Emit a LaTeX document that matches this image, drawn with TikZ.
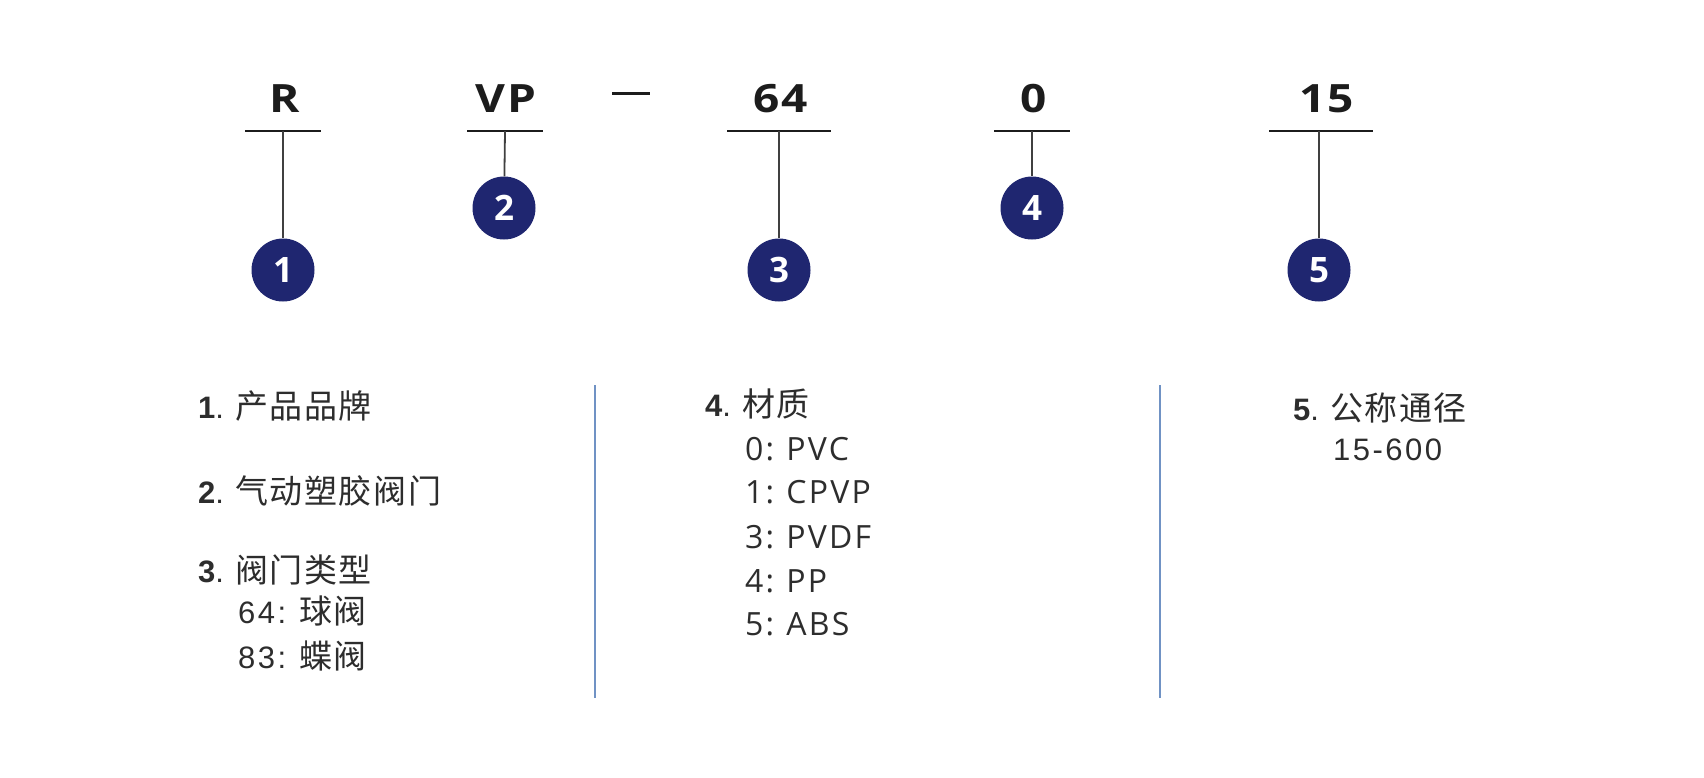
\documentclass[tikz,border=0pt]{standalone}
\usepackage{fontspec}
\setmainfont{Liberation Sans}[LetterSpace=8]
\newfontfamily\cjk{Noto Sans CJK SC}[LetterSpace=5]
\newfontfamily\codefont{Open Sans}[FakeStretch=1.18, LetterSpace=5]
\newfontfamily\badgefont{Open Sans}
\newfontfamily\listfont{Open Sans}[LetterSpace=7]
\usetikzlibrary{positioning}
\definecolor{navy}{RGB}{31,38,112}
\definecolor{divblue}{RGB}{112,146,196}
\definecolor{ink}{RGB}{28,28,28}
\definecolor{txt}{RGB}{45,45,45}
\newcommand{\zh}[1]{{\cjk\fontsize{33}{33}\selectfont #1}}
\newcommand{\num}[1]{{\bfseries #1}.\hspace{11pt}}
\begin{document}
\begin{tikzpicture}[x=1pt,y=-1pt]

      \tikzset{code/.style={anchor=base, inner sep=0pt, text=ink, font=\codefont\bfseries\fontsize{39}{39}\selectfont},
               bar/.style={draw=ink, line width=2.5pt},
               stem/.style={draw=black!75, line width=1.8pt},
               badge/.style={circle, fill=navy, inner sep=0pt, minimum size=63pt, text=white, font=\badgefont\bfseries\fontsize{35}{35}\selectfont},
               item/.style={anchor=base west, inner sep=0pt, text=txt, font=\fontsize{31}{31}\selectfont},
               sub/.style={item, font=\listfont\fontsize{32}{32}\selectfont},
               divider/.style={draw=divblue, line width=1.6pt}}
      \useasboundingbox[fill=white] (0,0) rectangle (1704,777);
%% Codes
      	\node[code] (cR) at (285,112) {R};
      	\node[code] (cVP) at (506,112) {VP};
      	\node[code] (c64) at (781,112) {64};
      	\node[code] (c0) at (1034,112) {0};
      	\node[code] (c15) at (1327,112) {15};
      	\coordinate (dashL) at (612,93);
      	\coordinate (dashR) at (650,93);
%% Underline centres
      	\coordinate (uR) at (283,131);
      	\coordinate (uVP) at (505,131);
      	\coordinate (u64) at (779,131);
      	\coordinate (u0) at (1032,131);
      	\coordinate (u15) at (1321,131);
%% Badges
      	\node[badge] (n1) at (283,270) {1};
      	\node[badge] (n2) at (504,208) {2};
      	\node[badge] (n3) at (779,270) {3};
      	\node[badge] (n4) at (1032,208) {4};
      	\node[badge] (n5) at (1319,270) {5};
%Bars
		\path[bar] ([xshift=-38]uR) -- ([xshift=38]uR);
		\path[bar] ([xshift=-38]uVP) -- ([xshift=38]uVP);
		\path[bar] ([xshift=-52]u64) -- ([xshift=52]u64);
		\path[bar] ([xshift=-38]u0) -- ([xshift=38]u0);
		\path[bar] ([xshift=-52]u15) -- ([xshift=52]u15);
		\path[bar, line width=3pt] (dashL) -- (dashR);
%Edges
		\path[stem] (uR) -- (n1);
		\path[stem] (uVP) -- (n2);
		\path[stem] (u64) -- (n3);
		\path[stem] (u0) -- (n4);
		\path[stem] (u15 -| n5) -- (n5);
%% Legend
      	\node[item] (t1) at (198,418) {\num{1}\zh{产品品牌}};
      	\node[item] (t2) at (198,503) {\num{2}\zh{气动塑胶阀门}};
      	\node[item] (t3) at (198,582) {\num{3}\zh{阀门类型}};
      	\node[item] (t3a) at (238,623) {64:\hspace{-2pt} \zh{球阀}};
      	\node[item] (t3b) at (238,668) {83:\hspace{-2pt} \zh{蝶阀}};
      	\node[item] (t4) at (705,416) {\num{4}\zh{材质}};
      	\node[sub] (t4a) at (745,460) {0:\hspace{-2pt} PVC};
      	\node[sub] (t4b) at (745,503) {1:\hspace{-2pt} CPVP};
      	\node[sub] (t4c) at (745,548) {3:\hspace{-2pt} PVDF};
      	\node[sub] (t4d) at (745,592) {4:\hspace{-2pt} PP};
      	\node[sub] (t4e) at (745,635) {5:\hspace{-2pt} ABS};
      	\node[item] (t5) at (1293,420) {\num{5}\zh{公称通径}};
      	\node[item] (t5a) at (1333,460) {15-600};
%Dividers
      	\coordinate (d1top) at (595,385);
      	\coordinate (d1bot) at (595,698);
      	\coordinate (d2top) at (1160,385);
      	\coordinate (d2bot) at (1160,698);
		\path[divider] (d1top) -- (d1bot);
		\path[divider] (d2top) -- (d2bot);

	\end{tikzpicture}
\end{document}
